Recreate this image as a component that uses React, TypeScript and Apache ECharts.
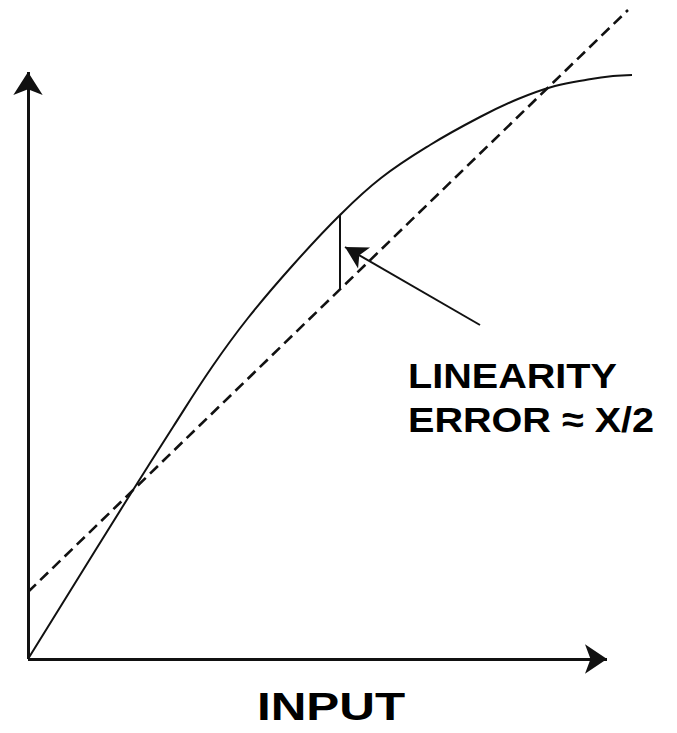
import React, { useEffect, useRef } from "react";
import * as echarts from "echarts";

// Transfer curve (output vs input)
const curveX = [0, 100, 145, 184, 220, 265, 312, 353, 402, 452, 490, 527, 560, 585, 604];
const curveY = [0, 161, 232, 292, 341, 394, 444, 481, 514, 542, 560, 573, 579.5, 583, 584];
// Best-fit straight line (dashed)
const refX = [0, 600];
const refY = [67, 649];
// Linearity error marker
const errorX = 312;
const errorTop = 444;
const errorBottom = 369;
// Annotation arrow (from label to error marker)
const arrowFrom = [452, 334];
const arrowTo = [317, 412];
// Axis extents
const xAxisEnd = 579;
const yAxisEnd = 587;
const xMax = 605;
const yMax = 649;
// Texts
const labelLine1 = "LINEARITY";
const labelLine2 = "ERROR \u2248 X/2";
const xAxisTitle = "INPUT";

export default function App() {
  const ref = useRef<HTMLDivElement>(null);
  useEffect(() => {
    if (!ref.current) return;
    const chart = echarts.init(ref.current, null, { renderer: "svg" });
    const ink = "#111111";
    const curve = curveX.map((x, i) => [x, curveY[i]]);
    const refLine = refX.map((x, i) => [x, refY[i]]);
    chart.setOption({
      animation: false,
      backgroundColor: "#ffffff",
      grid: { left: 28, top: 10, width: 605, height: 649 },
      xAxis: { type: "value", min: 0, max: xMax, show: false },
      yAxis: { type: "value", min: 0, max: yMax, show: false },
      series: [
        {
          type: "line",
          data: curve,
          smooth: 0.4,
          showSymbol: false,
          silent: true,
          lineStyle: { color: ink, width: 2 },
          markLine: {
            silent: true,
            animation: false,
            label: { show: false },
            symbol: ["none", "arrow"],
            data: [
              [
                { coord: [0, 0], symbol: "none", lineStyle: { color: ink, width: 3, type: "solid" } },
                { coord: [xAxisEnd, 0], symbol: "arrow", symbolSize: [22, 22] },
              ],
              [
                { coord: [0, 0], symbol: "none", lineStyle: { color: ink, width: 3, type: "solid" } },
                { coord: [0, yAxisEnd], symbol: "arrow", symbolSize: [22, 23] },
              ],
              [
                { coord: [errorX, errorTop], symbol: "none", lineStyle: { color: ink, width: 2, type: "solid" } },
                { coord: [errorX, errorBottom], symbol: "none" },
              ],
            ],
          },
        },
        {
          type: "line",
          data: refLine,
          showSymbol: false,
          silent: true,
          lineStyle: { color: ink, width: 2.6, type: [11, 6] },
          markLine: {
            silent: true,
            animation: false,
            label: { show: false },
            symbol: ["none", "arrow"],
            data: [
              [
                { coord: arrowFrom, symbol: "none", lineStyle: { color: ink, width: 2, type: "solid" } },
                { coord: arrowTo, symbol: "arrow", symbolSize: [18, 22] },
              ],
            ],
          },
        },
      ],
      graphic: [
        {
          type: "text",
          x: 408,
          y: 376,
          scaleX: 1.1,
          silent: true,
          style: {
            text: labelLine1,
            font: "bold 36px 'Liberation Sans', Arial, sans-serif",
            fill: "#000",
            textAlign: "left",
            textVerticalAlign: "middle",
          },
        },
        {
          type: "text",
          x: 408,
          y: 420,
          scaleX: 1.1,
          silent: true,
          style: {
            text: labelLine2,
            font: "bold 36px 'Liberation Sans', Arial, sans-serif",
            fill: "#000",
            textAlign: "left",
            textVerticalAlign: "middle",
          },
        },
        {
          type: "text",
          x: 331,
          y: 707,
          scaleX: 1.3,
          silent: true,
          style: {
            text: xAxisTitle,
            font: "bold 38px 'Liberation Sans', Arial, sans-serif",
            fill: "#000",
            textAlign: "center",
            textVerticalAlign: "middle",
          },
        },
      ],
    });
    return () => chart.dispose();
  }, []);
  return (
    <div
      ref={ref}
      style={{ position: "absolute", left: 0, top: 0, width: 677, height: 733, background: "#fff" }}
    />
  );
}
